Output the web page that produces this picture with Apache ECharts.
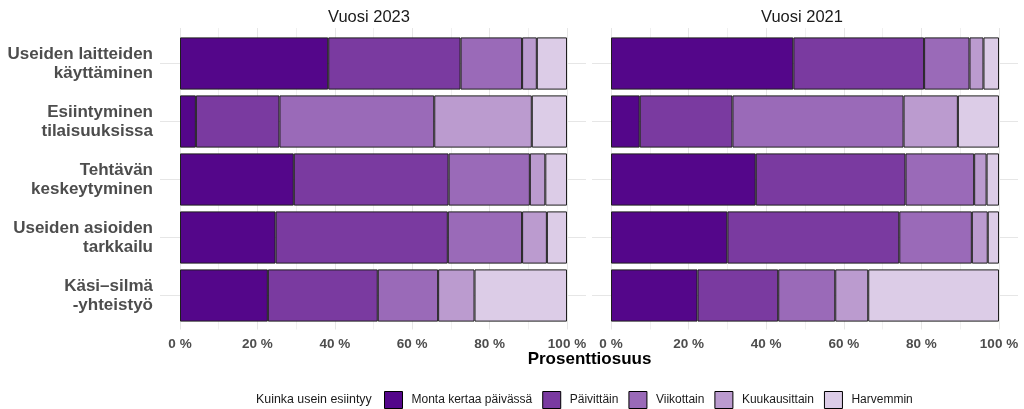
<!DOCTYPE html>
<html>
<head>
<meta charset="utf-8">
<script src="https://cdn.jsdelivr.net/npm/echarts@6/dist/echarts.min.js"></script>
<style>html,body{margin:0;padding:0;background:#fff}#c{width:1024px;height:409px}</style>
</head>
<body>
<div id="c"></div>
<script>
const categories = ["Useiden laitteiden\nkäyttäminen", "Esiintyminen\ntilaisuuksissa", "Tehtävän\nkeskeytyminen", "Useiden asioiden\ntarkkailu", "Käsi–silmä\n-yhteistyö"];
const frequencies = ["Monta kertaa päivässä", "Päivittäin", "Viikottain", "Kuukausittain", "Harvemmin"];
const panelTitles = ["Vuosi 2023", "Vuosi 2021"];
const xTicks = [0, 20, 40, 60, 80, 100];
const legendTitle = "Kuinka usein esiintyy";
const axisTitle = "Prosenttiosuus";

const monta2023 = [38.3, 4.1, 29.4, 24.7, 22.7];
const paivittain2023 = [34.2, 21.6, 40.0, 44.5, 28.4];
const viikottain2023 = [15.9, 40.0, 21.0, 19.2, 15.6];
const kuukausittain2023 = [3.8, 25.2, 4.0, 6.4, 9.4];
const harvemmin2023 = [7.8, 9.1, 5.6, 5.2, 23.9];

const monta2021 = [47.0, 7.4, 37.3, 30.0, 22.3];
const paivittain2021 = [33.7, 23.9, 38.6, 44.3, 20.8];
const viikottain2021 = [11.7, 44.1, 17.7, 18.7, 14.7];
const kuukausittain2021 = [3.6, 14.0, 3.2, 4.1, 8.5];
const harvemmin2021 = [4.0, 10.6, 3.2, 2.9, 33.7];

const colors = ["#54068A", "#7A3AA0", "#9A6AB8", "#BB9BCF", "#DCCCE7"];
const FONT = "'Liberation Sans', Arial, sans-serif";

const panels = [
  { title: panelTitles[0], data: [monta2023, paivittain2023, viikottain2023, kuukausittain2023, harvemmin2023], left: 180, width: 387, hLeft: 160, hWidth: 426, showY: true, titleX: 369 },
  { title: panelTitles[1], data: [monta2021, paivittain2021, viikottain2021, kuukausittain2021, harvemmin2021], left: 611, width: 388, hLeft: 592, hWidth: 426, showY: false, titleX: 802 }
];

const grid = [], xAxis = [], yAxis = [], series = [], graphic = [];
panels.forEach((p, pi) => {
  const g0 = grid.length;
  grid.push({ left: p.left, width: p.width, top: 28, height: 301.5 });
  xAxis.push({ gridIndex: g0, type: 'value', min: 0, max: 100, interval: 20,
    axisLine: { show: false }, axisTick: { show: false },
    minorTick: { show: false, splitNumber: 2 },
    splitLine: { show: true, lineStyle: { color: '#e6e6e6', width: 1 } },
    minorSplitLine: { show: true, lineStyle: { color: '#f0f0f0', width: 1 } },
    axisLabel: { show: true, margin: 8, formatter: '{value} %', fontFamily: FONT, fontSize: 13.5, fontWeight: 'bold', color: '#4d4d4d' } });
  yAxis.push({ gridIndex: g0, type: 'value', show: false, min: 0, max: 1 });
  grid.push({ left: p.hLeft, width: p.hWidth, top: 63.7, height: 232 });
  xAxis.push({ gridIndex: g0 + 1, type: 'value', show: false, min: 0, max: 1 });
  yAxis.push({ gridIndex: g0 + 1, type: 'category', data: categories, boundaryGap: false,
    axisLine: { show: false }, axisTick: { show: false }, axisLabel: { show: false },
    splitLine: { show: true, lineStyle: { color: '#e6e6e6', width: 1 } } });
  grid.push({ left: p.left, width: p.width, top: 34.5, height: 290 });
  xAxis.push({ gridIndex: g0 + 2, type: 'value', min: 0, max: 100, show: false });
  yAxis.push({ gridIndex: g0 + 2, type: 'category', data: categories, inverse: true,
    axisLine: { show: false }, axisTick: { show: false }, splitLine: { show: false },
    axisLabel: { show: p.showY, margin: 27, fontFamily: FONT, fontSize: 17, fontWeight: 'bold', color: '#4d4d4d', lineHeight: 19, align: 'right', padding: [3, 0, 0, 0] } });
  frequencies.forEach((f, fi) => {
    series.push({ type: 'bar', name: f, stack: 'p' + pi, xAxisIndex: g0 + 2, yAxisIndex: g0 + 2,
      barWidth: '90%', data: p.data[fi],
      itemStyle: { color: colors[fi], borderColor: '#1e1e1e', borderWidth: 1 } });
  });
  graphic.push({ type: 'text', x: p.titleX, y: 17,
    style: { text: p.title, fontFamily: FONT, fontSize: 16.5, fill: '#1a1a1a', align: 'center', verticalAlign: 'middle' } });
});

graphic.push({ type: 'text', x: 589.5, y: 359,
  style: { text: axisTitle, fontFamily: FONT, fontSize: 17, fontWeight: 'bold', fill: '#000', align: 'center', verticalAlign: 'middle' } });
graphic.push({ type: 'text', x: 256, y: 400,
  style: { text: legendTitle, fontFamily: FONT, fontSize: 12.4, fill: '#1a1a1a', align: 'left', verticalAlign: 'middle' } });

const chart = echarts.init(document.getElementById('c'), null, { renderer: 'canvas' });
chart.setOption({
  animation: false,
  color: colors,
  grid, xAxis, yAxis, series, graphic,
  legend: {
    data: frequencies, left: 384, top: 391, orient: 'horizontal', padding: 0,
    itemWidth: 18, itemHeight: 17, itemGap: 10, icon: 'rect',
    itemStyle: { borderColor: '#000', borderWidth: 1 },
    textStyle: { fontFamily: FONT, fontSize: 12, color: '#1a1a1a', padding: [0, 0, 0, 4] }
  }
});
</script>
</body>
</html>
